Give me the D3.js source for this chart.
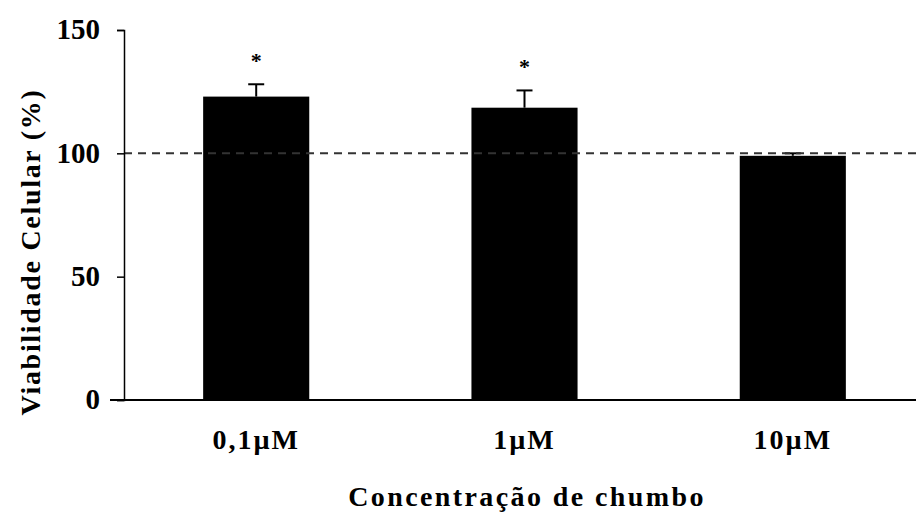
<!DOCTYPE html>
<html>
<head>
<meta charset="utf-8">
<script src="https://cdn.jsdelivr.net/npm/d3@7"></script>
<style>
  html, body { margin: 0; padding: 0; background: #fff; }
  svg { display: block; }
  text { font-family: "Liberation Serif", "Times New Roman", serif; font-weight: bold; fill: #000; }
</style>
</head>
<body>
<script>
// Cell viability by lead concentration
const categories = ["0,1\u00b5M", "1\u00b5M", "10\u00b5M"];
const means = [123, 118.5, 99];
const errors = [5, 7, 1];
const significant = [true, true, false];
const yTicks = [0, 50, 100, 150];
const referenceLevel = 100;

const W = 916, H = 516;
const svg = d3.select("body").append("svg").attr("width", W).attr("height", H);

const y = d3.scaleLinear().domain([0, 150]).range([400, 30]);
const x = d3.scaleBand().domain(categories).range([124, 925])
  .paddingInner(0.6045).paddingOuter(0.295);

// bars
svg.append("g").selectAll("rect").data(categories).join("rect")
  .attr("x", d => x(d))
  .attr("width", x.bandwidth())
  .attr("y", (d, i) => y(means[i]))
  .attr("height", (d, i) => y(0) - y(means[i]))
  .attr("fill", "#000");

// upper error bars
const eb = svg.append("g").attr("stroke", "#000").attr("stroke-width", 2);
categories.forEach((c, i) => {
  const cx = x(c) + x.bandwidth() / 2;
  eb.append("line").attr("x1", cx).attr("x2", cx)
    .attr("y1", y(means[i])).attr("y2", y(means[i] + errors[i]));
  eb.append("line").attr("x1", cx - 8).attr("x2", cx + 8)
    .attr("y1", y(means[i] + errors[i])).attr("y2", y(means[i] + errors[i]));
});

// significance marks
svg.append("g").selectAll("text").data(categories.filter((c, i) => significant[i])).join("text")
  .attr("x", d => x(d) + x.bandwidth() / 2)
  .attr("y", d => { const i = categories.indexOf(d); return y(means[i] + errors[i]) - 16; })
  .attr("text-anchor", "middle")
  .attr("font-size", 22)
  .text("*");

// 100% reference line
svg.append("line")
  .attr("x1", 124).attr("x2", W)
  .attr("y1", y(referenceLevel)).attr("y2", y(referenceLevel))
  .attr("stroke", "#333").attr("stroke-width", 2)
  .attr("stroke-dasharray", "8,6");

// y axis
const yAxis = svg.append("g").attr("transform", "translate(124,0)")
  .call(d3.axisLeft(y).tickValues(yTicks).tickSize(7).tickPadding(17));
yAxis.select(".domain").attr("stroke", "#000").attr("stroke-width", 1.5);
yAxis.selectAll(".tick line").attr("stroke", "#000").attr("stroke-width", 1.5);
yAxis.selectAll(".tick text")
  .attr("font-size", 29).attr("font-family", "Liberation Serif").attr("font-weight", "bold")
  .attr("dy", "0.3em");

// x axis
svg.append("line").attr("x1", 110).attr("x2", W).attr("y1", 400).attr("y2", 400)
  .attr("stroke", "#000").attr("stroke-width", 2);
const xAxis = svg.append("g").attr("transform", "translate(0,400)")
  .call(d3.axisBottom(x).tickSize(0).tickPadding(0));
xAxis.select(".domain").remove();
xAxis.selectAll(".tick text")
  .attr("font-size", 28).attr("font-family", "Liberation Serif").attr("font-weight", "bold")
  .attr("letter-spacing", 2)
  .attr("dy", null)
  .attr("y", 49);

// axis titles
svg.append("text")
  .attr("x", 527).attr("y", 506)
  .attr("text-anchor", "middle")
  .attr("font-size", 28)
  .attr("letter-spacing", 2.4)
  .text("Concentração de chumbo");

svg.append("text")
  .attr("transform", "translate(40,252) rotate(-90)")
  .attr("text-anchor", "middle")
  .attr("font-size", 28)
  .attr("letter-spacing", 1.7)
  .text("Viabilidade Celular (%)");
</script>
</body>
</html>
